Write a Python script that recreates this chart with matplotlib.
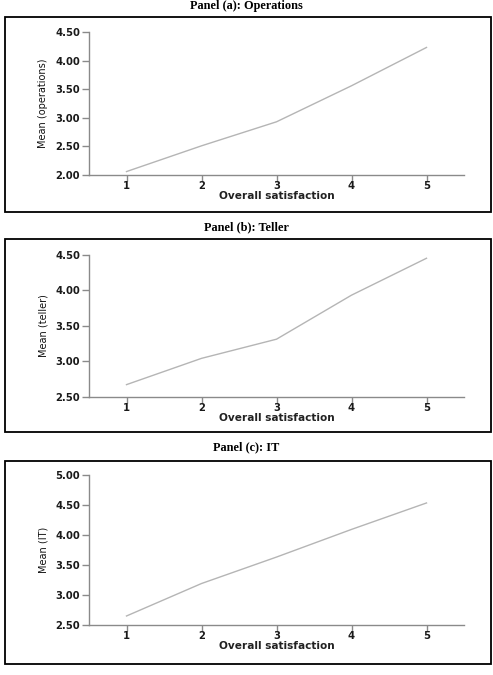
import numpy as np
import matplotlib
matplotlib.use("Agg")
import matplotlib.pyplot as plt
from matplotlib.patches import Rectangle

# data
satisfaction = [1, 2, 3, 4, 5]
mean_operations = [2.06, 2.51, 2.93, 3.56, 4.23]
mean_teller = [2.67, 3.04, 3.31, 3.93, 4.45]
mean_it = [2.65, 3.19, 3.63, 4.09, 4.53]

titles = ["Panel (a): Operations", "Panel (b): Teller", "Panel (c): IT"]
ylabels = ["Mean (operations)", "Mean (teller)", "Mean (IT)"]
yticks = [[2.00, 2.50, 3.00, 3.50, 4.00, 4.50],
          [2.50, 3.00, 3.50, 4.00, 4.50],
          [2.50, 3.00, 3.50, 4.00, 4.50, 5.00]]
series = [mean_operations, mean_teller, mean_it]

W, H = 493, 675
fig = plt.figure(figsize=(W / 100, H / 100), dpi=100)
fig.patch.set_facecolor("white")

# pixel layout: (axes top, axes bottom, frame top, frame bottom, title y)
layout = [(32, 175, 17, 212, 6.5),
          (254.7, 396.7, 239, 432, 227),
          (474.7, 625, 460.7, 664, 447)]
ax_left, ax_right = 89, 464

for i in range(3):
    top, bot, ftop, fbot, ty = layout[i]
    ax = fig.add_axes([ax_left / W, 1 - bot / H, (ax_right - ax_left) / W, (bot - top) / H])
    ax.plot(satisfaction, series[i], color="#b5b5b5", lw=1.0)
    ax.set_xlim(0.5, 5.5)
    ax.set_ylim(yticks[i][0], yticks[i][-1])
    ax.set_xticks(satisfaction)
    ax.set_yticks(yticks[i])
    ax.set_yticklabels(["%.2f" % v for v in yticks[i]])
    for s in ["top", "right"]:
        ax.spines[s].set_visible(False)
    for s in ["left", "bottom"]:
        ax.spines[s].set_color("#8a8a8a")
        ax.spines[s].set_linewidth(1.0)
    ax.tick_params(colors="#8a8a8a", length=5, width=1, labelcolor="#1a1a1a",
                   labelsize=7.2, pad=1.5)
    ax.tick_params(axis="x", length=4, pad=0.5)
    for lab in ax.get_xticklabels() + ax.get_yticklabels():
        lab.set_fontweight("bold")
        lab.set_family("DejaVu Sans")
    ax.set_xlabel("Overall satisfaction", fontsize=7.6, fontweight="bold",
                  color="#222222", family="DejaVu Sans", labelpad=0)
    ax.set_ylabel(ylabels[i], fontsize=7, color="#111111", family="DejaVu Sans",
                  labelpad=5)

    # black frame around each panel
    fig.patches.append(Rectangle((5 / W, 1 - fbot / H), 486 / W, (fbot - ftop) / H,
                                 transform=fig.transFigure, fill=False,
                                 edgecolor="black", lw=1.3))
    fig.text(0.5, 1 - ty / H, titles[i], ha="center", va="center", fontsize=8.8,
             fontweight="bold", family="Liberation Serif")

fig.savefig("out.png", dpi=100)
